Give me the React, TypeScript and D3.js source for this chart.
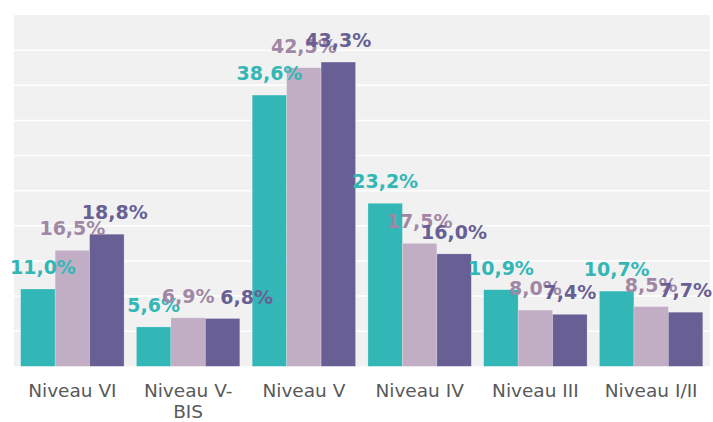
import React from 'react';
import * as d3 from 'd3';

// chart data
const categories = ['Niveau VI', 'Niveau V-BIS', 'Niveau V', 'Niveau IV', 'Niveau III', 'Niveau I/II'];
const seriesA = [11.0, 5.6, 38.6, 23.2, 10.9, 10.7];
const seriesB = [16.5, 6.9, 42.5, 17.5, 8.0, 8.5];
const seriesC = [18.8, 6.8, 43.3, 16.0, 7.4, 7.7];
const yTicks = [0, 5, 10, 15, 20, 25, 30, 35, 40, 45, 50];

const series = [
  { key: 'a', values: seriesA, fill: '#33b7b6', label: '#33b7b6' },
  { key: 'b', values: seriesB, fill: '#c1aec5', label: '#a088a5' },
  { key: 'c', values: seriesC, fill: '#685f95', label: '#685f95' },
];

// label nudges (px) the original applied to keep a few labels apart
const labelShift: Record<string, number> = { 'Niveau VI|a': 5, 'Niveau VI|c': 8, 'Niveau V-BIS|c': 24 };

const width = 713;
const height = 422;
const plot = { left: 14, right: 710, top: 15, bottom: 366.3 };

const fmt = (v: number) => v.toFixed(1).replace('.', ',') + '%';

const App = () => {
  const x = d3.scaleBand<string>()
    .domain(categories)
    .range([plot.left + 0.5, plot.right - 1])
    .paddingInner(0.107)
    .paddingOuter(0.0535);

  const xInner = d3.scaleBand<string>()
    .domain(series.map(s => s.key))
    .range([0, x.bandwidth()]);

  const y = d3.scaleLinear()
    .domain([0, 50])
    .range([plot.bottom, plot.top]);

  return (
    <svg width={width} height={height} style={{ position: 'absolute', left: 0, top: 0, background: '#fff' }}>
      <rect x={plot.left} y={plot.top} width={plot.right - plot.left} height={plot.bottom - plot.top} fill="#f1f1f1" />

      {/* gridlines */}
      {yTicks.filter(t => t > 0 && t < 50).map(t => (
        <line key={t} x1={plot.left} x2={plot.right} y1={y(t)} y2={y(t)} stroke="#ffffff" strokeWidth={1.5} />
      ))}

      {/* bars */}
      {categories.map((c, i) => (
        <g key={c} transform={`translate(${x(c)},0)`}>
          {series.map(s => (
            <rect
              key={s.key}
              x={xInner(s.key)}
              y={y(s.values[i])}
              width={xInner.bandwidth()}
              height={y(0) - y(s.values[i])}
              fill={s.fill}
              stroke="#ffffff"
              strokeOpacity={0.35}
              strokeWidth={0.6}
            />
          ))}
        </g>
      ))}

      {/* value labels */}
      {categories.map((c, i) => (
        <g key={c + '-lbl'} transform={`translate(${x(c)},0)`}>
          {series.map(s => (
            <text
              key={s.key}
              x={(xInner(s.key) || 0) + xInner.bandwidth() / 2 + (labelShift[c + '|' + s.key] || 0)}
              y={y(s.values[i]) - 15}
              textAnchor="middle"
              fontFamily="'DejaVu Sans', Verdana, sans-serif"
              fontWeight="bold"
              fontSize={19}
              fill={s.label}
            >
              {fmt(s.values[i])}
            </text>
          ))}
        </g>
      ))}

      {/* category axis labels */}
      {categories.map(c => {
        const lines = c === 'Niveau V-BIS' ? ['Niveau V-', 'BIS'] : [c];
        const cx = (x(c) || 0) + x.bandwidth() / 2;
        return (
          <text
            key={c + '-axis'}
            x={cx}
            y={396.7}
            textAnchor="middle"
            fontFamily="'DejaVu Sans', Verdana, sans-serif"
            fontSize={18.5}
            fill="#595959"
          >
            {lines.map((l, j) => (
              <tspan key={j} x={cx} dy={j === 0 ? 0 : 21.6}>{l}</tspan>
            ))}
          </text>
        );
      })}
    </svg>
  );
};

export default App;
